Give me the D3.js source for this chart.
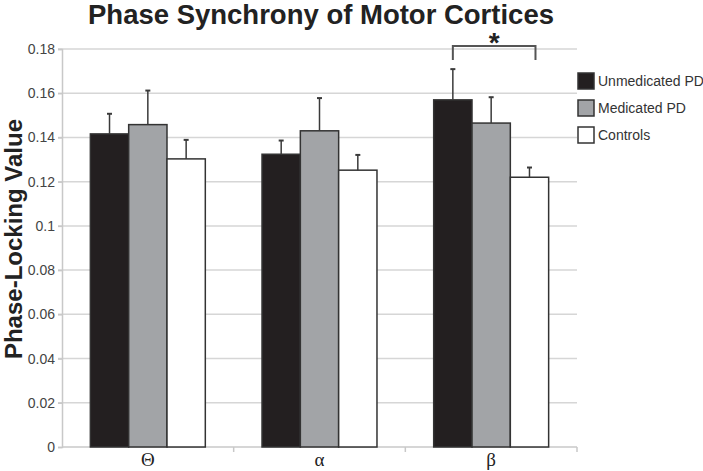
<!DOCTYPE html>
<html>
<head>
<meta charset="utf-8">
<script src="https://cdn.jsdelivr.net/npm/d3@7"></script>
<style>
	body { margin: 0; background: #fff; }
	text { font-family: Arial, "Liberation Sans", sans-serif; }
</style>
</head>
<body>
<svg id="chart" width="703" height="471"></svg>
<script>
'use strict'

const bands = ['Θ', 'α', 'β']
const groups = ['Unmedicated PD', 'Medicated PD', 'Controls']
const groupColors = ['#231f20', '#a2a4a7', '#ffffff']
// mean phase-locking value per band, one array per group
const unmedicated = [0.1416, 0.1324, 0.1570]
const medicated = [0.1458, 0.1430, 0.1465]
const controls = [0.1303, 0.1252, 0.1220]
// top of the (upper) error bar
const unmedicatedErr = [0.1507, 0.1386, 0.1709]
const medicatedErr = [0.1612, 0.1578, 0.1582]
const controlsErr = [0.1389, 0.1321, 0.1264]
const yTicks = [0, 0.02, 0.04, 0.06, 0.08, 0.1, 0.12, 0.14, 0.16, 0.18]

const svg = d3.select('#chart')
const params = {
	left: 62,
	right: 577,
	top: 49,
	bottom: 447
}

const y = d3.scaleLinear().domain([0, 0.18]).range([params.bottom, params.top])
const x0 = d3.scaleBand().domain(bands).range([params.left, params.right]).padding(0)
const x1 = d3.scaleBand().domain(groups).range([0, x0.bandwidth()])
	.paddingInner(0)
	.paddingOuter(0.74)

const means = [unmedicated, medicated, controls]
const errs = [unmedicatedErr, medicatedErr, controlsErr]
const rows = []
groups.forEach((g, gi) => {
	bands.forEach((b, bi) => {
		rows.push({band: b, group: g, gi, value: means[gi][bi], err: errs[gi][bi]})
	})
})

// gridlines
svg.append('g')
	.selectAll('line')
	.data(yTicks.filter(d => d > 0))
	.enter()
	.append('line')
	.attr('x1', params.left - 4)
	.attr('x2', params.right)
	.attr('y1', d => y(d))
	.attr('y2', d => y(d))
	.attr('stroke', '#d6d6d6')
	.attr('stroke-width', 1.5)

// y axis
const yAxis = svg.append('g')
	.attr('transform', `translate(${params.left},0)`)
	.call(d3.axisLeft(y).tickValues(yTicks).tickFormat(d => d3.format('')(+d.toFixed(2))).tickSize(4).tickPadding(3))
yAxis.select('.domain').attr('stroke', '#c8c8c8').attr('stroke-width', 1.5)
yAxis.selectAll('.tick line').attr('stroke', '#c8c8c8').attr('stroke-width', 1.5)
yAxis.selectAll('.tick text')
	.attr('font-size', 14)
	.attr('fill', '#444')
	.style('font-family', 'Arial, "Liberation Sans", sans-serif')

// x axis line and ticks at band boundaries
const xAxis = svg.append('g')
xAxis.append('line')
	.attr('x1', params.left)
	.attr('x2', params.right)
	.attr('y1', params.bottom)
	.attr('y2', params.bottom)
	.attr('stroke', '#c8c8c8')
	.attr('stroke-width', 1.5)
xAxis.selectAll('.bt')
	.data(bands)
	.enter()
	.append('line')
	.attr('class', 'bt')
	.attr('x1', d => x0(d) + x0.bandwidth())
	.attr('x2', d => x0(d) + x0.bandwidth())
	.attr('y1', params.bottom)
	.attr('y2', params.bottom + 5)
	.attr('stroke', '#c8c8c8')
	.attr('stroke-width', 1.5)
xAxis.selectAll('.bl')
	.data(bands)
	.enter()
	.append('text')
	.attr('class', 'bl')
	.attr('x', d => x0(d) + x0.bandwidth() / 2)
	.attr('y', 466)
	.attr('text-anchor', 'middle')
	.attr('font-size', 19)
	.attr('fill', '#222')
	.style('font-family', '"Liberation Serif", "DejaVu Serif", serif')
	.text(d => d)

// bars
const barX = d => x0(d.band) + x1(d.group)
svg.append('g')
	.selectAll('rect')
	.data(rows)
	.enter()
	.append('rect')
	.attr('x', barX)
	.attr('y', d => y(d.value))
	.attr('width', x1.bandwidth())
	.attr('height', d => y(0) - y(d.value))
	.attr('fill', d => groupColors[d.gi])
	.attr('stroke', '#333')
	.attr('stroke-width', 1.5)

// error bars (upper only)
const eb = svg.append('g').attr('stroke', '#3a3a3a').attr('stroke-width', 1.5)
eb.selectAll('.e')
	.data(rows)
	.enter()
	.append('line')
	.attr('x1', d => barX(d) + x1.bandwidth() / 2)
	.attr('x2', d => barX(d) + x1.bandwidth() / 2)
	.attr('y1', d => y(d.value))
	.attr('y2', d => y(d.err))
eb.selectAll('.c')
	.data(rows)
	.enter()
	.append('line')
	.attr('x1', d => barX(d) + x1.bandwidth() / 2 - 2.5)
	.attr('x2', d => barX(d) + x1.bandwidth() / 2 + 2.5)
	.attr('y1', d => y(d.err))
	.attr('y2', d => y(d.err))
	.attr('stroke-width', 2)

// significance bracket on beta band
const bLeft = x0('β') + x1('Unmedicated PD') + x1.bandwidth() / 2
const bRight = x0('β') + x1('Controls') + x1.bandwidth() / 2 + 6
const bTop = y(0.1814)
const bLeg = y(0.175)
svg.append('path')
	.attr('d', `M${bLeft},${bLeg}V${bTop}H${bRight}V${bLeg}`)
	.attr('fill', 'none')
	.attr('stroke', '#555')
	.attr('stroke-width', 2)
svg.append('text')
	.attr('x', (bLeft + bRight) / 2)
	.attr('y', 52)
	.attr('text-anchor', 'middle')
	.attr('font-size', 28)
	.attr('font-weight', 'bold')
	.attr('fill', '#222')
	.text('*')

// title
svg.append('text')
	.attr('x', 88)
	.attr('y', 24)
	.attr('font-size', 28)
	.attr('font-weight', 'bold')
	.attr('fill', '#222')
	.attr('textLength', 466)
	.attr('lengthAdjust', 'spacingAndGlyphs')
	.text('Phase Synchrony of Motor Cortices')

// y label
svg.append('text')
	.attr('transform', 'translate(22,239) rotate(-90)')
	.attr('text-anchor', 'middle')
	.attr('font-size', 24)
	.attr('font-weight', 'bold')
	.attr('fill', '#222')
	.text('Phase-Locking Value')

// legend
const legend = svg.append('g')
	.selectAll('g')
	.data(groups)
	.enter()
	.append('g')
	.attr('transform', (d, i) => `translate(578,${73 + i * 27})`)
legend.append('rect')
	.attr('width', 16)
	.attr('height', 16)
	.attr('fill', (d, i) => groupColors[i])
	.attr('stroke', '#333')
	.attr('stroke-width', 1.5)
legend.append('text')
	.attr('x', 20)
	.attr('y', 13)
	.attr('font-size', 14)
	.attr('fill', '#333')
	.text(d => d)
</script>
</body>
</html>
